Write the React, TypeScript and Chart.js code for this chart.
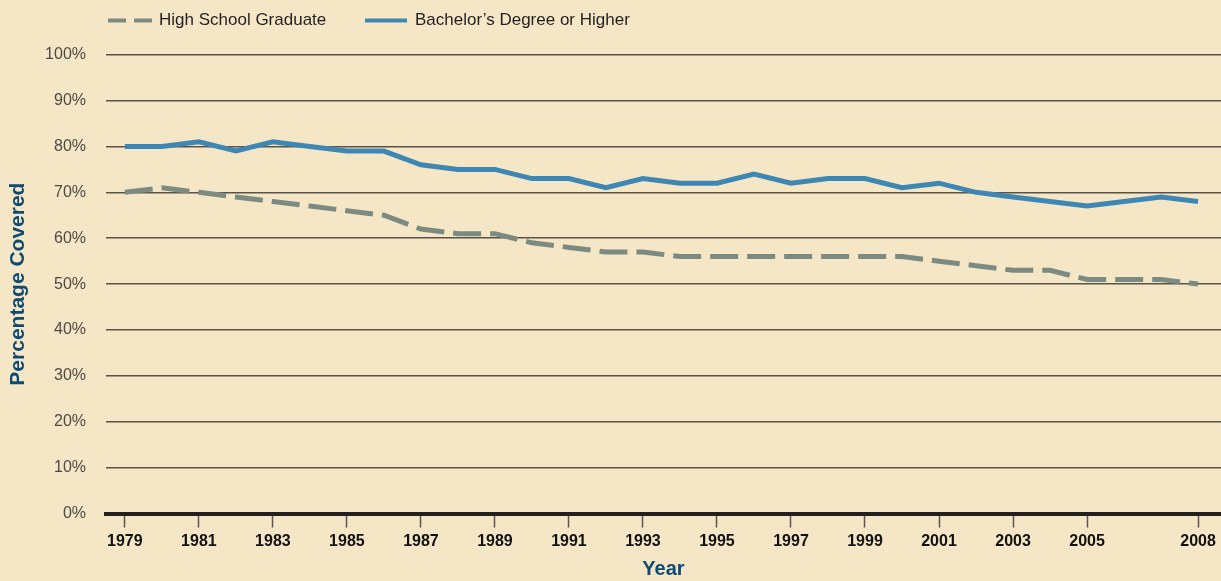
import React, { useEffect, useRef } from "react";
import { Chart, registerables } from "chart.js";

Chart.register(...registerables);

const years = [
  1979, 1980, 1981, 1982, 1983, 1984, 1985, 1986, 1987, 1988,
  1989, 1990, 1991, 1992, 1993, 1994, 1995, 1996, 1997, 1998,
  1999, 2000, 2001, 2002, 2003, 2004, 2005, 2006, 2007, 2008,
];

const highSchool = [
  70, 71, 70, 69, 68, 67, 66, 65, 62, 61,
  61, 59, 58, 57, 57, 56, 56, 56, 56, 56,
  56, 56, 55, 54, 53, 53, 51, 51, 51, 50,
];

const bachelor = [
  80, 80, 81, 79, 81, 80, 79, 79, 76, 75,
  75, 73, 73, 71, 73, 72, 72, 74, 72, 73,
  73, 71, 72, 70, 69, 68, 67, 68, 69, 68,
];

const xTickYears = [
  1979, 1981, 1983, 1985, 1987, 1989, 1991, 1993, 1995, 1997,
  1999, 2001, 2003, 2005, 2008,
];

const seriesLabels = ["High School Graduate", "Bachelor\u2019s Degree or Higher"];

const BG = "#f5e6c6";
const GRAY = "#7b8b81";
const BLUE = "#3e87b5";
const NAVY = "#0d4b74";
const FONT = "'Liberation Sans', Arial, sans-serif";

const bgPlugin = {
  id: "bgFill",
  beforeDraw(chart: any) {
    const { ctx, width, height } = chart;
    ctx.save();
    ctx.fillStyle = BG;
    ctx.fillRect(0, 0, width, height);
    ctx.restore();
  },
};

const legendPlugin = {
  id: "customLegend",
  afterDraw(chart: any) {
    const { ctx } = chart;
    const ds = chart.data.datasets;
    const items = [
      { x0: 108, x1: 152, tx: 159, dash: [18, 8] },
      { x0: 365, x1: 407, tx: 415, dash: [] as number[] },
    ];
    const y = 20.5;
    ctx.save();
    items.forEach((it, i) => {
      ctx.beginPath();
      ctx.setLineDash(it.dash);
      ctx.lineWidth = 4;
      ctx.strokeStyle = ds[i].borderColor;
      ctx.moveTo(it.x0, y);
      ctx.lineTo(it.x1, y);
      ctx.stroke();
      ctx.setLineDash([]);
      ctx.fillStyle = "#231f20";
      ctx.font = `17px ${FONT}`;
      ctx.textBaseline = "middle";
      ctx.textAlign = "left";
      ctx.fillText(ds[i].label, it.tx, y);
    });
    ctx.restore();
  },
};

export default function App() {
  const ref = useRef<HTMLCanvasElement | null>(null);

  useEffect(() => {
    document.body.style.margin = "0";
    const canvas = ref.current;
    if (!canvas) return;
    const chart = new Chart(canvas, {
      type: "line",
      data: {
        datasets: [
          {
            label: seriesLabels[0],
            data: years.map((y, i) => ({ x: y, y: highSchool[i] })),
            borderColor: GRAY,
            backgroundColor: GRAY,
            borderWidth: 5,
            borderDash: [28, 9],
            pointRadius: 0,
            tension: 0,
            order: 2,
          },
          {
            label: seriesLabels[1],
            data: years.map((y, i) => ({ x: y, y: bachelor[i] })),
            borderColor: BLUE,
            backgroundColor: BLUE,
            borderWidth: 5,
            pointRadius: 0,
            tension: 0,
            order: 1,
          },
        ],
      },
      options: {
        animation: false,
        responsive: false,
        maintainAspectRatio: false,
        layout: { padding: { top: 54.7, left: 0, right: 0, bottom: 0 } },
        plugins: {
          legend: { display: false },
          tooltip: { enabled: false },
        },
        scales: {
          x: {
            type: "linear",
            min: 1978.49,
            max: 2008.62,
            afterBuildTicks(scale: any) {
              scale.ticks = xTickYears.map((v) => ({ value: v }));
            },
            afterFit(scale: any) {
              scale.height = 67.5;
            },
            border: { display: true, color: "#231f1c", width: 4 },
            grid: {
              display: true,
              drawOnChartArea: false,
              drawTicks: true,
              tickLength: 14,
              tickWidth: 1.5,
              tickColor: "#5a5550",
            },
            ticks: {
              autoSkip: false,
              maxRotation: 0,
              padding: 4,
              color: "#111111",
              font: { family: FONT, size: 16, weight: "bold" },
              callback: (v: any) => String(v),
            },
            title: {
              display: true,
              text: "Year",
              color: NAVY,
              padding: { top: 0, bottom: 0 },
              font: { family: FONT, size: 20, weight: "bold" },
            },
          },
          y: {
            min: 0,
            max: 100,
            afterFit(scale: any) {
              scale.width = 106;
            },
            border: { display: false },
            grid: {
              drawTicks: false,
              lineWidth: 1.5,
              color: (c: any) => (c.tick && c.tick.value === 0 ? "rgba(0,0,0,0)" : "#5a5248"),
            },
            ticks: {
              stepSize: 10,
              padding: 20,
              color: "#4f4943",
              font: { family: FONT, size: 16 },
              callback: (v: any) => `${v}%`,
            },
            title: {
              display: true,
              text: "Percentage Covered",
              color: NAVY,
              padding: { top: 6, bottom: 0 },
              font: { family: FONT, size: 21, weight: "bold" },
            },
          },
        },
      },
      plugins: [bgPlugin, legendPlugin],
    });
    return () => chart.destroy();
  }, []);

  return (
    <div style={{ position: "fixed", left: 0, top: 0, width: 1221, height: 581, background: BG }}>
      <canvas ref={ref} width={1221} height={581} style={{ display: "block", width: 1221, height: 581 }} />
    </div>
  );
}
